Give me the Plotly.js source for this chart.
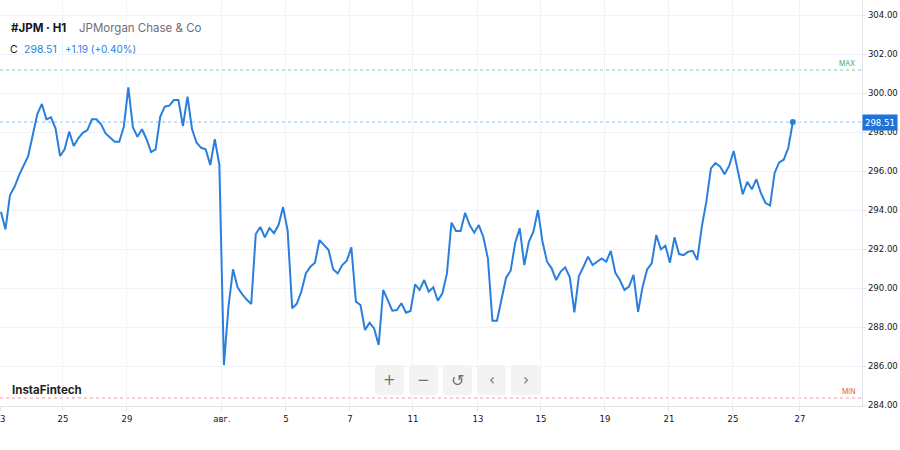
<!DOCTYPE html>
<html>
<head>
<meta charset="utf-8">
<script src="https://cdn.plot.ly/plotly-3.0.1.min.js"></script>
<style>html,body{margin:0;padding:0;background:#fff;}#chart{width:900px;height:450px;}</style>
</head>
<body>
<div id="chart"></div>
<script>
// ---- data (hourly closes) ----
const prices = [
293.91,293.01,294.77,295.19,295.79,296.26,296.77,297.85,298.92,
299.44,298.65,298.75,298.19,296.77,297.11,298.02,297.28,297.68,297.96,
298.10,298.65,298.65,298.39,297.93,297.73,297.50,297.50,298.27,300.29,
298.24,297.76,298.14,297.63,296.97,297.11,298.78,299.30,299.35,299.64,
299.64,298.31,299.81,298.14,297.45,297.19,297.11,296.31,297.63,296.31,
286.05,289.04,290.96,290.04,289.69,289.41,289.18,292.77,293.13,292.60,
293.08,292.81,293.23,294.15,292.94,288.96,289.19,289.81,290.75,291.09,
291.30,292.46,292.21,291.95,290.96,290.75,291.18,291.40,292.09,289.30,
289.13,287.85,288.22,287.93,287.08,289.90,289.38,288.84,288.87,289.22,
288.73,288.82,290.19,289.90,290.41,289.81,290.04,289.35,289.73,290.75,
293.35,292.92,292.92,293.86,293.23,292.84,293.23,292.62,291.52,288.32,
288.32,289.51,290.53,290.89,292.32,293.06,291.18,292.37,292.89,294.00,
292.37,291.35,291.01,290.41,290.84,291.06,290.55,288.75,290.62,291.09,
291.61,291.18,291.35,291.52,291.35,291.90,290.78,290.41,289.90,290.07,
290.67,288.78,290.07,290.96,291.27,292.72,291.98,292.17,291.30,292.60,
291.74,291.69,291.86,291.91,291.44,293.14,294.43,296.13,296.41,296.24,
295.84,296.26,297.03,295.88,294.81,295.45,295.06,295.58,294.86,294.36,
294.23,295.90,296.44,296.58,297.18,298.51
];
const tickPositions = [-0.18, 13.64, 27.70, 48.57, 62.63, 76.69, 90.53, 104.81, 118.65, 132.71, 146.77, 160.83, 175.55];
const tickLabels = ['23', '25', '29', 'авг.', '5', '7', '11', '13', '15', '19', '21', '25', '27'];
const maxLevel = 301.18;
const minLevel = 284.36;
const symbol = '#JPM · H1';
const company = 'JPMorgan Chase & Co';
const closeText = '298.51';
const changeText = '+1.19 (+0.40%)';

// ---- helpers ----
const PW = 862, PH = 406;
const px = v => v / PW;
const py = v => (PH - v) / PH;
const barIndex = prices.map((_, i) => i);
const last = prices.length - 1;
const blue = '#2a7fdc';
const txtFont = 'Inter, "Noto Sans", sans-serif';
const axFont = {family: '"DejaVu Sans Condensed", "DejaVu Sans", sans-serif', size: 9.5, color: '#131722'};

function roundRect(x0, y0, x1, y1, r) {
  const X = v => px(v).toFixed(5), Y = v => py(v).toFixed(5);
  return 'M' + X(x0 + r) + ',' + Y(y0) +
    ' L' + X(x1 - r) + ',' + Y(y0) + ' Q' + X(x1) + ',' + Y(y0) + ' ' + X(x1) + ',' + Y(y0 + r) +
    ' L' + X(x1) + ',' + Y(y1 - r) + ' Q' + X(x1) + ',' + Y(y1) + ' ' + X(x1 - r) + ',' + Y(y1) +
    ' L' + X(x0 + r) + ',' + Y(y1) + ' Q' + X(x0) + ',' + Y(y1) + ' ' + X(x0) + ',' + Y(y1 - r) +
    ' L' + X(x0) + ',' + Y(y0 + r) + ' Q' + X(x0) + ',' + Y(y0) + ' ' + X(x0 + r) + ',' + Y(y0) + ' Z';
}

const traces = [
  {x: barIndex, y: prices, type: 'scatter', mode: 'lines',
   line: {color: blue, width: 2}, hoverinfo: 'skip', showlegend: false},
  {x: [barIndex[last]], y: [prices[last]], type: 'scatter', mode: 'markers',
   marker: {color: blue, size: 6}, hoverinfo: 'skip', showlegend: false}
];

const buttonXs = [375, 409, 443, 477, 511];
const buttonIcons = ['+', '−', '↺', '‹', '›'];
const shapes = [
  {type: 'line', xref: 'paper', x0: 0, x1: 1, yref: 'y', y0: prices[last], y1: prices[last],
   line: {color: '#8fbaf0', width: 1, dash: 'dot'}, layer: 'below'},
  {type: 'line', xref: 'paper', x0: 0, x1: 1, yref: 'y', y0: maxLevel, y1: maxLevel,
   line: {color: '#7dcca3', width: 1, dash: 'dot'}, layer: 'below'},
  {type: 'line', xref: 'paper', x0: 0, x1: 1, yref: 'y', y0: minLevel, y1: minLevel,
   line: {color: '#f29a9a', width: 1, dash: 'dot'}, layer: 'below'}
];
buttonXs.forEach(bx => shapes.push({
  type: 'path', xref: 'paper', yref: 'paper', path: roundRect(bx, 365, bx + 29, 395, 4),
  fillcolor: '#f3f3f3', line: {width: 0}, layer: 'above'
}));

const annotations = [
  {xref: 'paper', yref: 'paper', x: px(9), y: py(28), xanchor: 'left', yanchor: 'middle', showarrow: false,
   text: '<b>' + symbol + '</b>', font: {family: txtFont, size: 11.5, color: '#131722'}},
  {xref: 'paper', yref: 'paper', x: px(77), y: py(28), xanchor: 'left', yanchor: 'middle', showarrow: false,
   text: company, font: {family: txtFont, size: 11.5, color: '#6b6e78'}},
  {xref: 'paper', yref: 'paper', x: px(8), y: py(49), xanchor: 'left', yanchor: 'middle', showarrow: false,
   text: 'C', font: {family: txtFont, size: 10.5, color: '#131722'}},
  {xref: 'paper', yref: 'paper', x: px(22), y: py(49), xanchor: 'left', yanchor: 'middle', showarrow: false,
   text: closeText, font: {family: txtFont, size: 10.5, color: blue}},
  {xref: 'paper', yref: 'paper', x: px(63), y: py(49), xanchor: 'left', yanchor: 'middle', showarrow: false,
   text: changeText, font: {family: txtFont, size: 10, color: blue}},
  {xref: 'paper', yref: 'paper', x: px(10), y: py(390), xanchor: 'left', yanchor: 'middle', showarrow: false,
   text: '<b>InstaFintech</b>', font: {family: txtFont, size: 11.5, color: '#1f1f1f'}},
  {xref: 'paper', yref: 'y', x: px(857), y: maxLevel, xanchor: 'right', yanchor: 'bottom', showarrow: false,
   text: 'MAX', font: {family: txtFont, size: 7, color: '#3fae6e'}},
  {xref: 'paper', yref: 'y', x: px(857), y: minLevel, xanchor: 'right', yanchor: 'bottom', showarrow: false,
   text: 'MIN', font: {family: txtFont, size: 7, color: '#e05555'}},
  {xref: 'paper', yref: 'y', x: px(862), y: prices[last], xanchor: 'left', yanchor: 'middle', showarrow: false,
   text: prices[last].toFixed(2), bgcolor: '#1f73d6', borderpad: 2,
   font: {family: axFont.family, size: 9.5, color: '#ffffff'}}
];
buttonXs.forEach((bx, i) => annotations.push({
  xref: 'paper', yref: 'paper', x: px(bx + 14.5), y: py(380), xanchor: 'center', yanchor: 'middle',
  showarrow: false, text: buttonIcons[i],
  font: {family: '"DejaVu Sans", sans-serif', size: i === 2 ? 16 : 15, color: '#707070'}
}));

const layout = {
  width: 900, height: 450,
  margin: {l: 0, r: 38, t: 0, b: 44, pad: 0},
  paper_bgcolor: '#ffffff', plot_bgcolor: '#ffffff',
  showlegend: false,
  xaxis: {
    range: [-0.2, 189.2], tickmode: 'array', tickvals: tickPositions, ticktext: tickLabels,
    showgrid: true, gridcolor: '#f0f3fa', gridwidth: 1, zeroline: false,
    showline: true, linecolor: '#e0e3eb', linewidth: 1,
    ticks: 'outside', ticklen: 4, tickcolor: '#e0e3eb', tickfont: axFont,
    ticklabeloverflow: 'allow', fixedrange: true
  },
  yaxis: {
    side: 'right', range: [283.95, 304.77], tick0: 284, dtick: 2, tickformat: '.2f',
    showgrid: true, gridcolor: '#f0f3fa', gridwidth: 1, zeroline: false,
    showline: true, linecolor: '#e0e3eb', linewidth: 1,
    ticks: 'outside', ticklen: 3, tickcolor: '#e0e3eb', tickfont: axFont, fixedrange: true
  },
  shapes: shapes,
  annotations: annotations
};

Plotly.newPlot('chart', traces, layout, {displayModeBar: false, staticPlot: true});
</script>
</body>
</html>
